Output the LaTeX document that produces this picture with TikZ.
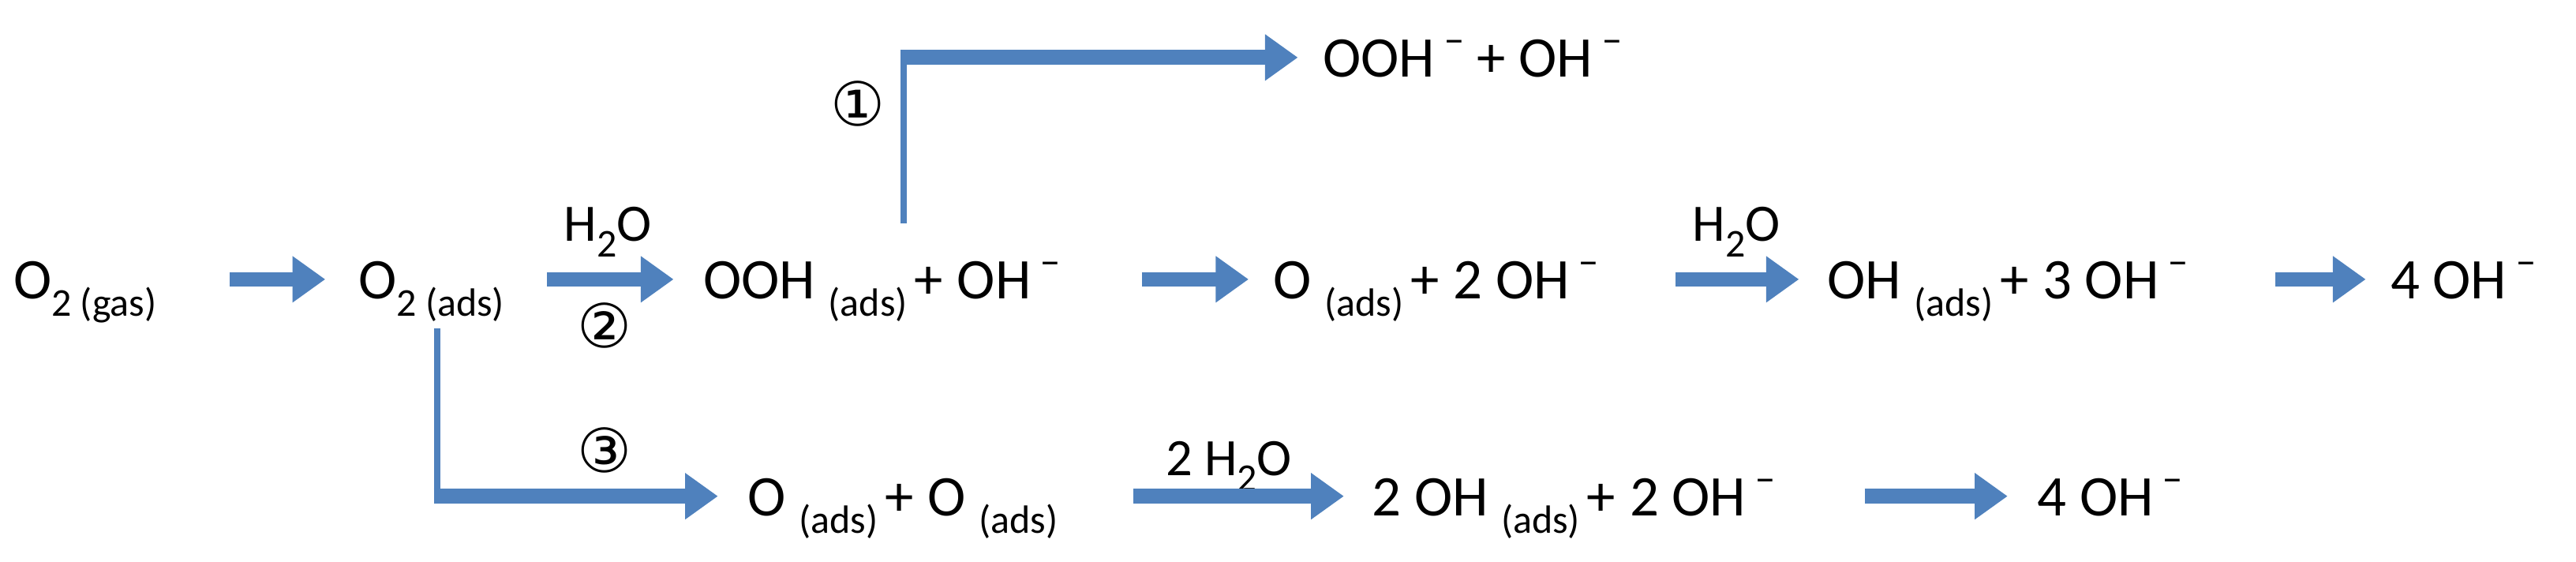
\documentclass[tikz,border=0pt]{standalone}
\usepackage{fontspec}
\setmainfont{Carlito}
\newfontfamily\circfont{DejaVu Sans}
\usetikzlibrary{arrows.meta}
\definecolor{arrblue}{RGB}{79,129,189}
\newcommand{\lowr}[1]{\raisebox{-0.3em}{\fontsize{24}{26}\selectfont #1}}
\newcommand{\minus}{\,\raisebox{0.4em}{\fontsize{24}{26}\selectfont −}}
\newcommand{\pl}{\hspace{0.12em}+\hspace{0.25em}}
\begin{document}
\begin{tikzpicture}[x=1pt,y=-1pt,
  chem/.style={anchor=base west,inner sep=0pt,font=\fontsize{35}{38}\selectfont},
  lbl/.style={inner sep=0pt,font=\fontsize{32}{34}\selectfont},
  circ/.style={inner sep=0pt,font=\circfont\fontsize{37}{39}\selectfont},
  fat/.style={draw=arrblue,line width=9pt,-{Triangle[length=20pt,width=27pt]}},
  thin/.style={draw=arrblue,line width=4pt}]
\useasboundingbox (0,0) rectangle (1568,342);
\node[chem] (a) at (8,182) {O\lowr{2 (gas)}};
\node[chem] (b) at (218,182) {O\lowr{2 (ads)}};
\node[chem] (c) at (428,182) {OOH \lowr{(ads)}\pl OH\minus};
\node[chem] (d) at (775,182) {O \lowr{(ads)}\pl 2 OH\minus};
\node[chem] (e) at (1112,182) {OH \lowr{(ads)}\pl 3 OH\minus};
\node[chem] (f) at (1455,182) {4 OH\minus};
\node[chem] (g) at (805,47) {OOH\minus{} + OH\minus};
\node[chem] (h) at (455,314) {O \lowr{(ads)}\pl O \lowr{(ads)}};
\node[chem] (i) at (835,314) {2 OH \lowr{(ads)}\pl 2 OH\minus};
\node[chem] (j) at (1240,314) {4 OH\minus};
\node[lbl] (w1) at (370,141) {H\lowr{2}O};
\node[lbl] (w2) at (1057,141) {H\lowr{2}O};
\node[lbl] (w3) at (748,284) {2 H\lowr{2}O};
\node[circ] (n1) at (522,63) {①};
\node[circ] (n2) at (368,198) {②};
\node[circ] (n3) at (368,274) {③};
\coordinate (c1) at (550,136);
\coordinate (c2) at (550,35);
\coordinate (b1) at (266,200);
\coordinate (b2) at (266,302);
\draw[fat] (140,170) -- (198,170);
\draw[fat] (333,170) -- (410,170);
\draw[fat] (695,170) -- (760,170);
\draw[fat] (1020,170) -- (1095,170);
\draw[fat] (1385,170) -- (1440,170);
\draw[thin] (c1) -- (c2);
\draw[fat] ([xshift=-2pt]c2) -- (790,35);
\draw[thin] (b1) -- (b2);
\draw[fat] ([xshift=-2pt]b2) -- (437,302);
\draw[fat] (690,302) -- (818,302);
\draw[fat] (1135,302) -- (1222,302);
\end{tikzpicture}
\end{document}
